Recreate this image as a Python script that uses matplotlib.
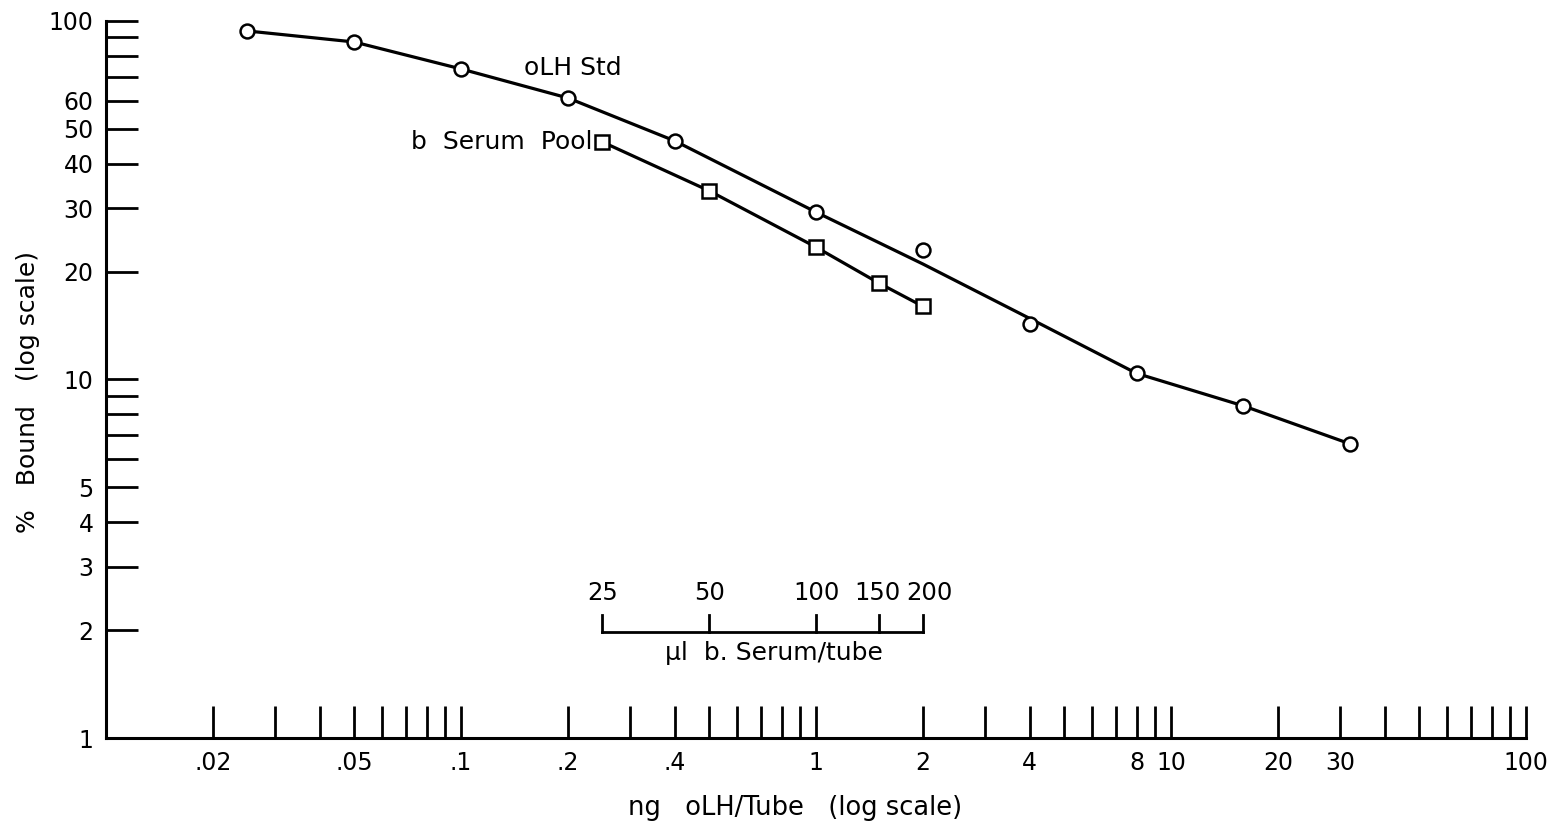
import matplotlib
matplotlib.use('Agg')
import matplotlib.pyplot as plt
from matplotlib.ticker import FixedLocator, FixedFormatter, NullLocator
import numpy as np

# oLH standard (circles)
std_x = [0.025, 0.05, 0.1, 0.2, 0.4, 1, 2, 4, 8, 16, 32]
std_y = [93.8, 87.4, 73.5, 61.0, 46.3, 29.3, 23.0, 14.3, 10.4, 8.44, 6.61]

# hand drawn curve through the standard (misses the 2 ng point)
curve_x = [0.025, 0.05, 0.1, 0.2, 0.4, 1, 2, 4, 8, 16, 32]
curve_y = [93.8, 87.4, 73.5, 61.0, 46.3, 29.3, 21.0, 14.8, 10.4, 8.44, 6.61]

# b. serum pool (squares), ul serum per tube
serum_ul = [25, 50, 100, 150, 200]
pool_y = [46.0, 33.6, 23.4, 18.6, 16.0]
ul_per_ng = 100.  # 100 ul plotted at 1 ng

x_ticks = [0.02, 0.03, 0.04, 0.05, 0.06, 0.07, 0.08, 0.09, 0.1,
           0.2, 0.3, 0.4, 0.5, 0.6, 0.7, 0.8, 0.9, 1,
           2, 3, 4, 5, 6, 7, 8, 9, 10,
           20, 30, 40, 50, 60, 70, 80, 90, 100]
x_labels = {0.02: '.02', 0.05: '.05', 0.1: '.1', 0.2: '.2', 0.4: '.4',
            1: '1', 2: '2', 4: '4', 8: '8', 10: '10', 20: '20', 30: '30',
            100: '100'}
y_ticks = [1, 2, 3, 4, 5, 6, 7, 8, 9, 10, 20, 30, 40, 50, 60, 70, 80, 90, 100]
y_labels = {1: '1', 2: '2', 3: '3', 4: '4', 5: '5', 10: '10', 20: '20',
            30: '30', 40: '40', 50: '50', 60: '60', 100: '100'}

W, H = 1558, 833
fig = plt.figure(figsize=[W/100., H/100.], dpi=100)
ax = fig.add_axes([106./W, 1-738./H, (1526.-106)/W, (738.-21)/H])
ax.set_xscale('log')
ax.set_yscale('log')
ax.set_xlim(0.01, 100)
ax.set_ylim(1, 100)

for s in ['top', 'right']:
    ax.spines[s].set_visible(False)
for s in ['left', 'bottom']:
    ax.spines[s].set_linewidth(2.2)

ax.xaxis.set_major_locator(FixedLocator(x_ticks))
ax.xaxis.set_major_formatter(FixedFormatter([x_labels.get(t, '') for t in x_ticks]))
ax.xaxis.set_minor_locator(NullLocator())
ax.yaxis.set_major_locator(FixedLocator(y_ticks))
ax.yaxis.set_major_formatter(FixedFormatter([y_labels.get(t, '') for t in y_ticks]))
ax.yaxis.set_minor_locator(NullLocator())
ax.tick_params(axis='both', direction='in', length=23, width=2, labelsize=17)
ax.tick_params(axis='x', pad=9)
ax.tick_params(axis='y', pad=9)

# curves
ax.plot(curve_x, curve_y, color='k', lw=2.3, zorder=2)
ax.plot(std_x, std_y, 'o', mfc='white', mec='k', ms=10, mew=1.8, zorder=3)
pool_x = np.array(serum_ul)/ul_per_ng
ax.plot(pool_x, pool_y, color='k', lw=2.3, marker='s', mfc='white', mec='k',
        ms=9.5, mew=1.8, zorder=3)

ax.text(0.1505, 73.9, 'oLH Std', fontsize=18, ha='left', va='center')
ax.text(0.234, 46.0, 'b  Serum  Pool', fontsize=18, ha='right', va='center')

# serum volume scale
ybar, ytop = 1.977, 2.2
ax.plot([pool_x[0], pool_x[-1]], [ybar, ybar], color='k', lw=2)
for xv, v in zip(pool_x, serum_ul):
    ax.plot([xv, xv], [ybar, ytop], color='k', lw=2)
    dx = 5 if v == 200 else (-1 if v == 150 else 0)
    ax.annotate(str(v), xy=(xv, 2.54), xytext=(dx, 0), textcoords='offset points',
                fontsize=17.5, ha='center', va='center')
ax.text(np.sqrt(pool_x[0]*pool_x[-1])*1.08, 1.73, '\u00b5l  b. Serum/tube',
        fontsize=18, ha='center', va='center')

fig.text(28./W, 1-392./H, '%   Bound   (log scale)', rotation=90,
         ha='center', va='center', fontsize=18)
fig.text(795./W, 1-808./H, 'ng   oLH/Tube   (log scale)',
         ha='center', va='center', fontsize=18.5)

plt.savefig('out.png', dpi=100)
